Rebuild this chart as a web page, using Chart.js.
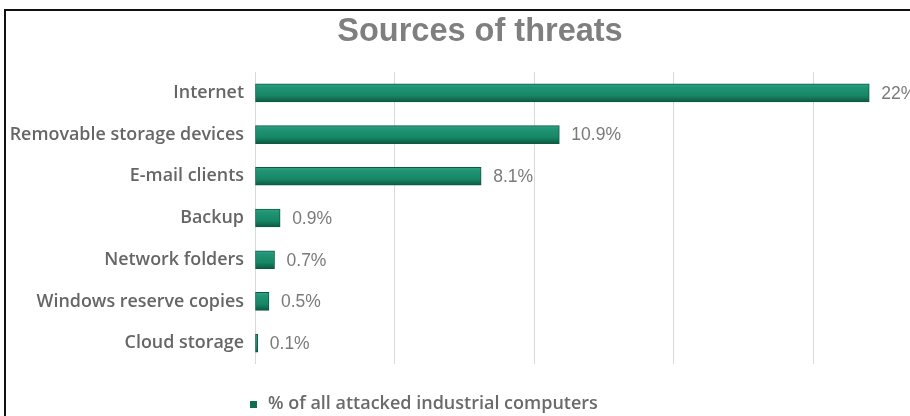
<!DOCTYPE html>
<html>
<head>
<meta charset="utf-8">
<script src="https://cdn.jsdelivr.net/npm/chart.js@4.4.0/dist/chart.umd.min.js"></script>
<style>
  html, body { margin: 0; padding: 0; width: 910px; height: 416px; overflow: hidden; background: #fff; }
  #frame { position: absolute; left: 4px; top: 9px; width: 1000px; height: 500px; border: 2px solid #111; box-sizing: border-box; }
  #wrap { position: absolute; left: 7px; top: 12px; width: 954px; height: 404px; }
</style>
</head>
<body>
<div id="frame"></div>
<div id="wrap"><canvas id="c"></canvas></div>
<script>
const categories = ["Internet", "Removable storage devices", "E-mail clients", "Backup", "Network folders", "Windows reserve copies", "Cloud storage"];
const values = [22, 10.9, 8.1, 0.9, 0.7, 0.5, 0.1];
const seriesName = "% of all attacked industrial computers";
const titleText = "Sources of threats";
const xMin = 0, xMax = 25, xStep = 5;

const BAR_T = 18;
function barFill(ctx) {
  const chart = ctx.chart;
  const ys = chart.scales && chart.scales.y;
  if (!ys || ctx.dataIndex === undefined) return '#178a66';
  const cy = ys.getPixelForValue(ctx.dataIndex);
  if (!isFinite(cy)) return '#178a66';
  const g = chart.ctx.createLinearGradient(0, cy - BAR_T / 2, 0, cy + BAR_T / 2);
  g.addColorStop(0, '#34a382');
  g.addColorStop(0.2, '#1f9473');
  g.addColorStop(0.65, '#178766');
  g.addColorStop(1, '#0b5942');
  return g;
}

const dataLabels = {
  id: 'dataLabels',
  afterDatasetsDraw(chart) {
    const ctx = chart.ctx;
    const meta = chart.getDatasetMeta(0);
    ctx.save();
    ctx.font = '17.5px "Liberation Sans", Arial, sans-serif';
    ctx.fillStyle = '#7a7a7a';
    ctx.textAlign = 'left';
    ctx.textBaseline = 'middle';
    meta.data.forEach((bar, i) => {
      ctx.fillText(values[i] + '%', bar.x + 12, bar.y + 1);
    });
    ctx.restore();
  }
};

const customLegend = {
  id: 'customLegend',
  afterDraw(chart) {
    const ctx = chart.ctx;
    const a = chart.chartArea;
    const y = a.bottom + 40;
    ctx.save();
    ctx.fillStyle = '#0f6e52';
    ctx.fillRect(a.left - 5, y - 3, 7, 7);
    ctx.font = '600 18px "Open Sans", Lato, sans-serif';
    ctx.fillStyle = '#6a6a6a';
    ctx.textAlign = 'left';
    ctx.textBaseline = 'middle';
    ctx.fillText(seriesName, a.left + 13, y);
    ctx.restore();
  }
};

new Chart(document.getElementById('c'), {
  type: 'bar',
  data: {
    labels: categories,
    datasets: [{
      label: seriesName,
      data: values,
      backgroundColor: barFill,
      borderColor: '#0c5a44',
      borderWidth: 1,
      borderSkipped: false,
      barThickness: BAR_T
    }]
  },
  options: {
    indexAxis: 'y',
    responsive: true,
    maintainAspectRatio: false,
    animation: false,
    layout: { padding: { top: 0, right: 8, bottom: 52, left: 0 } },
    plugins: {
      legend: { display: false },
      tooltip: { enabled: false },
      title: {
        display: true,
        text: titleText,
        color: '#7f7f7f',
        font: { family: '"Liberation Sans", Arial, sans-serif', size: 32.5, weight: 'bold', lineHeight: 1.2 },
        padding: { top: 1, bottom: 20 }
      }
    },
    scales: {
      x: {
        min: xMin, max: xMax,
        ticks: { display: false, stepSize: xStep },
        grid: { color: '#d9d9d9', drawTicks: false, lineWidth: 1 },
        border: { display: false }
      },
      y: {
        afterFit(scale) { scale.width = 248; },
        ticks: {
          color: '#666666',
          padding: 11,
          font: { family: '"Open Sans", Lato, sans-serif', size: 17.9, weight: '600' }
        },
        grid: { display: false, drawTicks: false },
        border: { display: false }
      }
    }
  },
  plugins: [dataLabels, customLegend]
});
</script>
</body>
</html>
